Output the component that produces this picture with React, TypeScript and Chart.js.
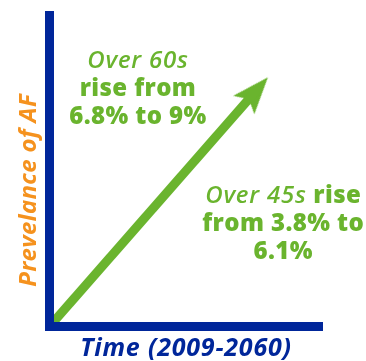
import React, { useEffect, useRef } from "react";
import { Chart, registerables } from "chart.js";

Chart.register(...registerables);

// ---- data ----
const arrowX = [0, 80]; // time axis (relative scale 0-100)
const arrowY = [0, 80]; // prevalence axis (relative scale 0-100)
const xAxisTitle = "Time (2009-2060)";
const yAxisTitle = "Prevelance of AF";
const over60Lines = [
  [{ text: "Over 60s", italic: true }],
  [{ text: "rise from", italic: false }],
  [{ text: "6.8% to 9%", italic: false }],
];
const over45Lines = [
  [
    { text: "Over 45s", italic: true },
    { text: " rise", italic: false },
  ],
  [{ text: "from 3.8% to", italic: false }],
  [{ text: "6.1%", italic: false }],
];

// ---- styles ----
const BLUE = "#00269A";
const GREEN = "#6AB42E";
const ORANGE = "#F5921E";
const FAMILY = "'Open Sans', sans-serif";
const LETTER_SPACING = "0.8px";

const noteBlocks = [
  { lines: over60Lines, x: 32.4, y: 82.9 },
  { lines: over45Lines, x: 85.6, y: 39.5 },
];

function makeHead(): HTMLCanvasElement {
  const R = 40;
  const c = document.createElement("canvas");
  c.width = 2 * R;
  c.height = 2 * R;
  const g = c.getContext("2d")!;
  g.fillStyle = GREEN;
  g.beginPath();
  g.moveTo(R, R);
  g.lineTo(R + 14, R + 36.8);
  g.lineTo(R, R + 29);
  g.lineTo(R - 14, R + 36.8);
  g.closePath();
  g.fill();
  return c;
}

const spacingPlugin = {
  id: "spacing",
  beforeDraw(chart: any) {
    (chart.ctx as any).letterSpacing = LETTER_SPACING;
  },
};

const notesPlugin = {
  id: "notes",
  afterDraw(chart: any) {
    const { ctx, chartArea, scales } = chart;
    const xs = scales.x;
    const ys = scales.y;
    ctx.save();
    ctx.textBaseline = "alphabetic";
    ctx.textAlign = "left";
    ctx.fillStyle = GREEN;
    const setFont = (italic: boolean) => {
      ctx.font = italic ? `italic 600 24px ${FAMILY}` : `800 24px ${FAMILY}`;
      (ctx as any).letterSpacing = italic ? "0.8px" : "0.4px";
    };
    for (const block of noteBlocks) {
      const cx = xs.getPixelForValue(block.x);
      let by = ys.getPixelForValue(block.y);
      for (const line of block.lines) {
        let total = 0;
        const widths = line.map((seg) => {
          setFont(seg.italic);
          const w = ctx.measureText(seg.text).width;
          total += w;
          return w;
        });
        let px = cx - total / 2;
        line.forEach((seg, i) => {
          setFont(seg.italic);
          ctx.fillText(seg.text, px, by);
          px += widths[i];
        });
        by += 28;
      }
    }
    // y axis title
    ctx.fillStyle = ORANGE;
    ctx.font = `italic 700 24px ${FAMILY}`;
    (ctx as any).letterSpacing = "0.3px";
    ctx.textAlign = "center";
    ctx.translate(chartArea.left - 13.5, ys.getPixelForValue(43.7));
    ctx.rotate(-Math.PI / 2);
    ctx.fillText(yAxisTitle, 0, 0);
    ctx.restore();
  },
};

export default function App() {
  const ref = useRef<HTMLCanvasElement>(null);
  useEffect(() => {
    if (!ref.current) return;
    const points = arrowX.map((x, i) => ({ x, y: arrowY[i] }));
    const tip = points[points.length - 1];
    const chart = new Chart(ref.current, {
      type: "scatter",
      data: {
        datasets: [
          {
            label: "shaft",
            data: points,
            showLine: true,
            borderColor: GREEN,
            backgroundColor: GREEN,
            borderWidth: 9,
            borderCapStyle: "butt",
            pointRadius: 0,
            clip: { left: 5, bottom: 5, right: 5, top: -77 } as any,
          },
          {
            label: "head",
            data: [tip],
            pointStyle: makeHead() as any,
            pointRadius: 1,
            rotation: 41,
            backgroundColor: GREEN,
            borderColor: GREEN,
          },
        ],
      },
      options: {
        animation: false,
        responsive: true,
        maintainAspectRatio: false,
        events: [],
        layout: { padding: { left: 49.5, top: 15, right: 43.5, bottom: 0 } },
        plugins: { legend: { display: false }, tooltip: { enabled: false } },
        scales: {
          x: {
            type: "linear",
            min: 0,
            max: 100,
            ticks: { display: false },
            grid: { display: false, drawTicks: false },
            border: { display: true, color: BLUE, width: 9, z: 1 },
            title: {
              display: true,
              text: xAxisTitle,
              color: BLUE,
              font: { family: FAMILY, size: 25, style: "italic", weight: "bold", lineHeight: 1 },
              padding: { top: 9.5, bottom: 0 },
            },
          },
          y: {
            type: "linear",
            min: 0,
            max: 100,
            ticks: { display: false },
            grid: { display: false, drawTicks: false },
            border: { display: true, color: BLUE, width: 9, z: 1 },
            title: { display: false },
          },
        },
      },
      plugins: [spacingPlugin, notesPlugin],
    });
    return () => chart.destroy();
  }, []);
  return (
    <div style={{ position: "fixed", left: 0, top: 0, width: 366, height: 361, background: "#fff" }}>
      <canvas ref={ref} />
    </div>
  );
}
